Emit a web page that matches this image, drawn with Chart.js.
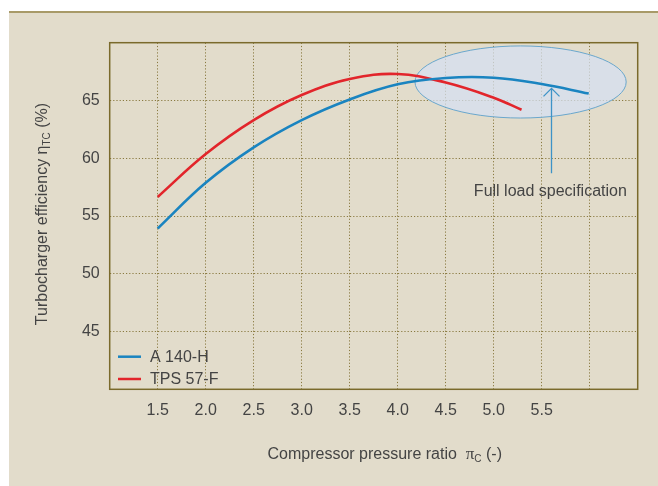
<!DOCTYPE html>
<html>
<head>
<meta charset="utf-8">
<script src="https://cdn.jsdelivr.net/npm/chart.js@4"></script>
<style>
  html, body { margin: 0; padding: 0; background: #ffffff; }
  #wrap { position: relative; width: 658px; height: 486px; }
  canvas { display: block; }
</style>
</head>
<body>
<div id="wrap"><canvas id="c" width="658" height="486"></canvas></div>
<script>
// ---- data ----
const seriesNames = ['A 140-H', 'TPS 57-F'];
const pressureA = [1.5, 2.0, 2.5, 3.0, 3.5, 4.0, 4.5, 5.0, 5.5, 5.99];
const efficiencyA = [53.92, 57.87, 60.94, 63.3, 65.09, 66.4, 66.95, 66.97, 66.42, 65.6];
const pressureB = [1.5, 2.0, 2.5, 3.0, 3.5, 4.0, 4.5, 5.0, 5.29];
const efficiencyB = [56.65, 60.36, 63.3, 65.47, 66.85, 67.29, 66.55, 65.24, 64.2];
const xTickLabels = ['1.5', '2.0', '2.5', '3.0', '3.5', '4.0', '4.5', '5.0', '5.5'];
const yTickLabels = ['45', '50', '55', '60', '65'];
const annotationText = 'Full load specification';
const ellipseCenter = [5.28, 66.6];
const ellipseRadii = [1.1, 3.12];
const arrowX = [5.6];
const arrowY = [58.7, 66.05];
const annotationPos = [5.59, 56.7];

// ---- styles ----
const BLUE = '#1a84c0';
const RED = '#e2252b';
const BEIGE = '#e2dccb';
const GRID = '#8a7a40';
const FRAME = '#7a6a2c';
const TEXT = '#444444';
const FONT = '"Liberation Sans", Arial, Helvetica, sans-serif';

const toPts = (xs, ys) => xs.map((x, i) => ({ x: x, y: ys[i] }));

const panelPlugin = {
  id: 'panel',
  beforeDraw(chart) {
    const ctx = chart.ctx;
    ctx.save();
    ctx.fillStyle = '#ffffff';
    ctx.fillRect(0, 0, chart.width, chart.height);
    ctx.fillStyle = BEIGE;
    ctx.fillRect(9, 12, chart.width - 9, chart.height - 12);
    ctx.fillStyle = '#a89a68';
    ctx.fillRect(9, 11, chart.width - 9, 2);
    ctx.restore();
  }
};

const ellipsePlugin = {
  id: 'fullLoad',
  beforeDatasetsDraw(chart) {
    const { ctx, scales: { x, y } } = chart;
    const cx = x.getPixelForValue(ellipseCenter[0]);
    const cy = y.getPixelForValue(ellipseCenter[1]);
    const rx = x.getPixelForValue(ellipseCenter[0] + ellipseRadii[0]) - cx;
    const ry = cy - y.getPixelForValue(ellipseCenter[1] + ellipseRadii[1]);
    ctx.save();
    ctx.beginPath();
    ctx.ellipse(cx, cy, rx, ry, 0, 0, Math.PI * 2);
    ctx.fillStyle = 'rgba(213,224,242,0.72)';
    ctx.fill();
    ctx.lineWidth = 1;
    ctx.strokeStyle = '#6aa7cd';
    ctx.stroke();
    ctx.restore();
  },
  afterDatasetsDraw(chart) {
    const { ctx, scales: { x, y }, chartArea: a } = chart;
    // arrow
    const ax = Math.round(x.getPixelForValue(arrowX[0])) + 0.5;
    const y0 = y.getPixelForValue(arrowY[0]);
    const y1 = y.getPixelForValue(arrowY[1]);
    ctx.save();
    ctx.strokeStyle = '#3d93c7';
    ctx.lineWidth = 1.3;
    ctx.beginPath();
    ctx.moveTo(ax, y0);
    ctx.lineTo(ax, y1);
    ctx.moveTo(ax - 8, y1 + 8);
    ctx.lineTo(ax, y1);
    ctx.lineTo(ax + 8, y1 + 8);
    ctx.stroke();
    // annotation text
    ctx.fillStyle = TEXT;
    ctx.font = '16px ' + FONT;
    ctx.textAlign = 'center';
    ctx.textBaseline = 'alphabetic';
    ctx.fillText(annotationText, x.getPixelForValue(annotationPos[0]), y.getPixelForValue(annotationPos[1]));
    // frame
    ctx.strokeStyle = FRAME;
    ctx.lineWidth = 1.5;
    ctx.strokeRect(a.left, a.top, a.right - a.left, a.bottom - a.top);
    // legend
    const ds = chart.data.datasets;
    ds.forEach((d, i) => {
      const ly = 356.7 + i * 22.3;
      ctx.strokeStyle = d.borderColor;
      ctx.lineWidth = 2.5;
      ctx.beginPath();
      ctx.moveTo(118, ly);
      ctx.lineTo(141, ly);
      ctx.stroke();
      ctx.fillStyle = TEXT;
      ctx.textAlign = 'left';
      ctx.textBaseline = 'middle';
      ctx.font = '16px ' + FONT;
      ctx.fillText(d.label, 150, ly + 0.5);
    });
    ctx.restore();
  }
};

function drawRuns(ctx, runs, x0, baseline) {
  let x = x0;
  runs.forEach(r => {
    ctx.font = r.size + 'px ' + (r.family || FONT);
    ctx.fillText(r.t, x, baseline + (r.dy || 0));
    x += ctx.measureText(r.t).width;
  });
}
function runsWidth(ctx, runs) {
  let w = 0;
  runs.forEach(r => { ctx.font = r.size + 'px ' + (r.family || FONT); w += ctx.measureText(r.t).width; });
  return w;
}

const titlesPlugin = {
  id: 'axisTitles',
  afterDraw(chart) {
    const ctx = chart.ctx;
    ctx.save();
    ctx.fillStyle = TEXT;
    ctx.textAlign = 'left';
    ctx.textBaseline = 'alphabetic';
    // x title
    const xr = [
      { t: 'Compressor pressure ratio  ', size: 16 },
      { t: 'π', size: 17, family: '"Liberation Serif", "DejaVu Serif", serif' },
      { t: 'C', size: 10, dy: 3 },
      { t: ' (-)', size: 16 }
    ];
    drawRuns(ctx, xr, 267.5, 459);
    // y title
    const yr = [
      { t: 'Turbocharger efficiency η', size: 16 },
      { t: 'TC', size: 10, dy: 3 },
      { t: ' (%)', size: 16 }
    ];
    const w = runsWidth(ctx, yr);
    ctx.translate(47.3, 214);
    ctx.rotate(-Math.PI / 2);
    drawRuns(ctx, yr, -w / 2, 0);
    ctx.restore();
  }
};

new Chart(document.getElementById('c'), {
  type: 'line',
  data: {
    datasets: [
      { label: seriesNames[0], data: toPts(pressureA, efficiencyA), borderColor: BLUE, borderWidth: 2.6, pointRadius: 0, tension: 0.4, fill: false },
      { label: seriesNames[1], data: toPts(pressureB, efficiencyB), borderColor: RED, borderWidth: 2.6, pointRadius: 0, tension: 0.4, fill: false }
    ]
  },
  options: {
    responsive: false,
    animation: false,
    devicePixelRatio: 1,
    layout: { padding: { left: 0, right: 20.3, top: 42.7, bottom: 0 } },
    plugins: { legend: { display: false }, tooltip: { enabled: false }, title: { display: false } },
    scales: {
      x: {
        type: 'linear', min: 1, max: 6.5,
        afterFit(s) { s.height = 96.7; },
        ticks: {
          stepSize: 0.5, autoSkip: false, maxRotation: 0, padding: 12,
          color: TEXT, font: { size: 16, family: FONT },
          callback(v) { const l = Number(v).toFixed(1); return xTickLabels.includes(l) ? l : ''; }
        },
        grid: { color: GRID, lineWidth: 1, drawTicks: false },
        border: { display: false, dash: [1.2, 2] }
      },
      y: {
        type: 'linear', min: 40, max: 70,
        afterFit(s) { s.width = 109.7; },
        ticks: {
          stepSize: 5, padding: 10,
          color: TEXT, font: { size: 16, family: FONT },
          callback(v) { const l = String(v); return yTickLabels.includes(l) ? l : ''; }
        },
        grid: { color: GRID, lineWidth: 1, drawTicks: false },
        border: { display: false, dash: [1.2, 2] }
      }
    }
  },
  plugins: [panelPlugin, ellipsePlugin, titlesPlugin]
});
</script>
</body>
</html>
